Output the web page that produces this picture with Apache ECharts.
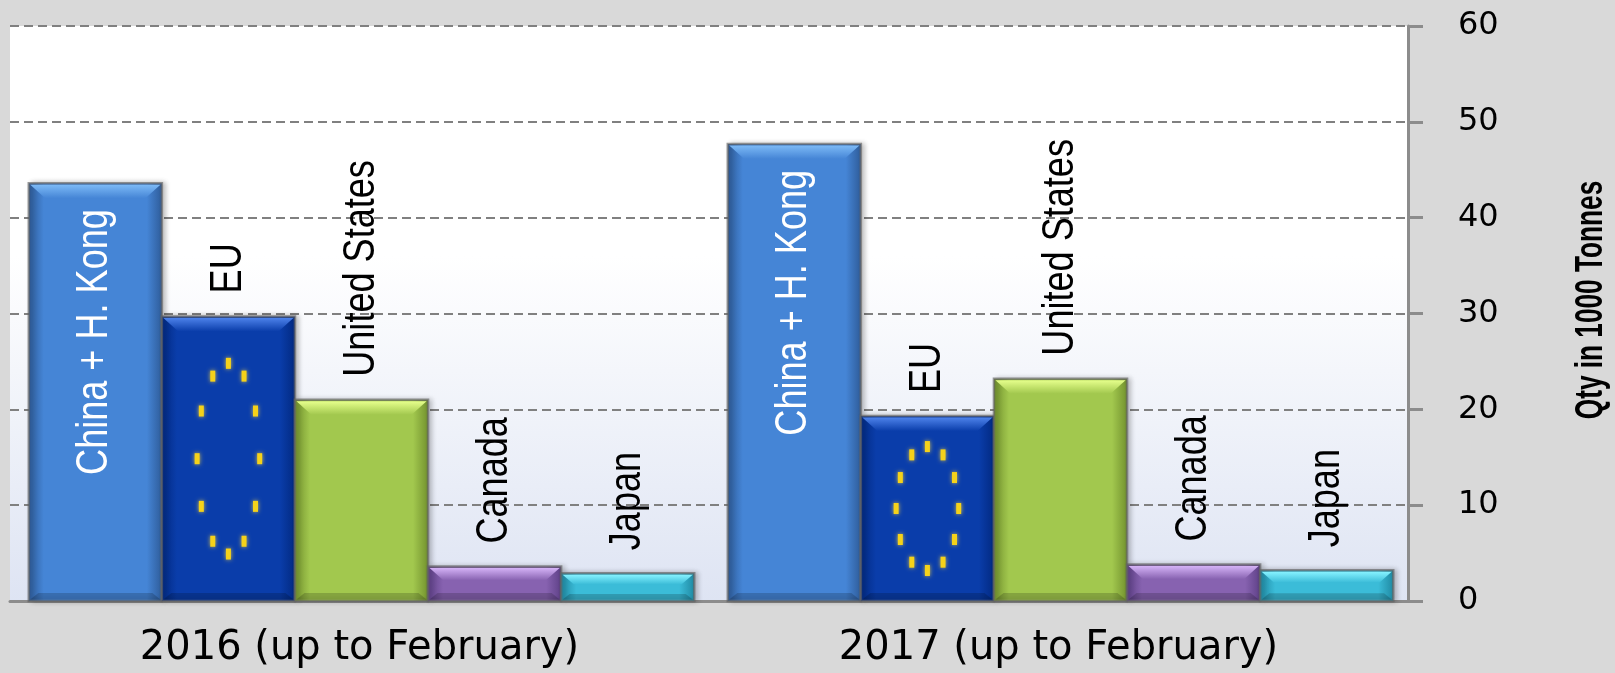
<!DOCTYPE html>
<html>
<head>
<meta charset="utf-8">
<script src="https://cdn.jsdelivr.net/npm/echarts@6/dist/echarts.min.js"></script>
<style>
	html, body { margin: 0; padding: 0; background: #d9d9d9; }
	#chart { width: 1615px; height: 673px; }
</style>
</head>
<body>
<div id="chart"></div>
<script>
	const categories = ['2016 (up to February)', '2017 (up to February)'];
	const countries = ['China + H. Kong', 'EU', 'United States', 'Canada', 'Japan'];
	// Qty in 1000 tonnes, one value per period
	const china = [43.6, 47.7];
	const eu = [29.7, 19.3];
	const usa = [21.0, 23.2];
	const canada = [3.6, 3.8];
	const japan = [2.9, 3.2];
	const yTicks = [0, 60, 10]; // min, max, step
	const yTitle = 'Qty in 1000 Tonnes';

	const seriesValues = [china, eu, usa, canada, japan];

	// look of each bar: edge / middle colour, top bevel colour
	const looks = [
		{ edge: '#2d5995', mid: '#4585d6', bevel: '#7dbaf6', label: '#ffffff', inside: true },
		{ edge: '#02287e', mid: '#0a3daa', bevel: '#4d82ea', label: '#000000', stars: true },
		{ edge: '#6f8e2c', mid: '#a2c84e', bevel: '#e6ff8c', label: '#000000' },
		{ edge: '#5b3e84', mid: '#8762b0', bevel: '#d4b2f6', label: '#000000' },
		{ edge: '#1e869f', mid: '#3bbcd8', bevel: '#86f2ff', label: '#000000' }
	];

	// no narrow font installed, so squeeze a normal one
	const labelFont = '"Liberation Sans", Arial, sans-serif';
	const tickFont = '"DejaVu Sans", Verdana, sans-serif';

	function barRenderer (idx) {
		const look = looks[idx];
		return function (params, api) {
			const cat = api.value(0);
			const val = api.value(1);
			const band = api.size([1, 0])[0];
			const groupW = band * 0.952;
			const bw = groupW / countries.length;
			const base = api.coord([cat, 0]);
			const top = api.coord([cat, val]);
			const x = base[0] - groupW / 2 + idx * bw + 2;
			const y = top[1];
			const h = base[1] - top[1];
			const bev = Math.min(15, h * 0.4);
			const kids = [];

			kids.push({
				type: 'rect',
				shape: { x: x, y: y, width: bw, height: h },
				style: {
					fill: new echarts.graphic.LinearGradient(0, 0, 1, 0, [
						{ offset: 0, color: look.edge },
						{ offset: 0.12, color: look.mid },
						{ offset: 0.88, color: look.mid },
						{ offset: 1, color: look.edge }
					]),
					stroke: 'rgba(100,100,100,0.65)',
					lineWidth: 2.5,
					shadowColor: 'rgba(0,0,0,0.25)',
					shadowBlur: 5,
					shadowOffsetX: 3,
					shadowOffsetY: 0
				}
			});
			// lit top bevel
			kids.push({
				type: 'polygon',
				shape: { points: [[x + 1.5, y + 1.5], [x + bw - 1.5, y + 1.5], [x + bw - 1.5 - bev, y + bev], [x + 1.5 + bev, y + bev]] },
				style: {
					fill: new echarts.graphic.LinearGradient(0, 0, 0, 1, [
						{ offset: 0, color: look.bevel },
						{ offset: 1, color: look.mid }
					])
				}
			});
			// darker bottom bevel
			const bb = Math.min(8, h * 0.25);
			kids.push({
				type: 'polygon',
				shape: { points: [[x + 1.5, base[1] - 1.5], [x + bw - 1.5, base[1] - 1.5], [x + bw - 1.5 - bb, base[1] - bb], [x + 1.5 + bb, base[1] - bb]] },
				style: { fill: 'rgba(0,0,0,0.18)' }
			});

			if (look.stars) {
				const cx = x + bw / 2;
				const cy = y + h / 2;
				const rx = bw * 0.235;
				const ry = h * 0.335;
				for (let k = 0; k < 12; k++) {
					const a = k * Math.PI / 6;
					kids.push({
						type: 'rect',
						shape: { x: cx + rx * Math.sin(a) - 2.5, y: cy - ry * Math.cos(a) - 5.5, width: 5, height: 11 },
						style: { fill: '#f5d21a', shadowColor: 'rgba(255,220,60,0.8)', shadowBlur: 4 }
					});
				}
			}

			kids.push({
				type: 'text',
				x: x + bw / 2,
				y: look.inside ? y + 26 : y - 23,
				rotation: Math.PI / 2,
				scaleX: 0.82,
				style: {
					text: countries[idx],
					fill: look.label,
					fontSize: 44,
					fontFamily: labelFont,
					align: look.inside ? 'right' : 'left',
					verticalAlign: 'middle'
				}
			});

			return { type: 'group', children: kids };
		};
	}

	const chart = echarts.init(document.getElementById('chart'));

	const option = {
		backgroundColor: '#d9d9d9',
		animation: false,
		grid: {
			left: 10,
			right: 207,
			top: 26,
			bottom: 72,
			outerBoundsMode: 'none',
			containLabel: false,
			show: true,
			borderWidth: 0,
			backgroundColor: {
				type: 'linear', x: 0, y: 0, x2: 0, y2: 1,
				colorStops: [
					{ offset: 0, color: '#ffffff' },
					{ offset: 0.4, color: '#ffffff' },
					{ offset: 1, color: '#dee4f3' }
				]
			}
		},
		graphic: [{
			// axis title, squeezed like the original
			type: 'text',
			x: 1592,
			y: 300,
			rotation: Math.PI / 2,
			scaleX: 0.69,
			style: {
				text: yTitle,
				fontSize: 38,
				fontWeight: 'bold',
				fontFamily: labelFont,
				fill: '#000',
				align: 'center',
				verticalAlign: 'middle'
			}
		}],
		xAxis: {
			type: 'category',
			data: categories,
			axisLine: { lineStyle: { color: '#8c8c8c', width: 3 } },
			axisTick: { length: 12, lineStyle: { color: '#8c8c8c', width: 3 } },
			axisLabel: { fontSize: 40, fontFamily: tickFont, color: '#000', margin: 28 }
		},
		yAxis: {
			type: 'value',
			position: 'right',
			min: yTicks[0],
			max: yTicks[1],
			interval: yTicks[2],
			axisLine: { show: true, lineStyle: { color: '#8c8c8c', width: 3 } },
			axisTick: { show: true, length: 15, lineStyle: { color: '#8c8c8c', width: 3 } },
			axisLabel: { fontSize: 32, fontFamily: tickFont, color: '#000', margin: 50 },
			splitLine: { lineStyle: { color: '#808080', width: 2, type: [9, 5] } }
		},
		series: seriesValues.map((vals, i) => ({
			name: countries[i],
			type: 'custom',
			encode: { x: 0, y: 1 },
			data: vals.map((v, c) => [c, v]),
			renderItem: barRenderer(i),
			z: 3
		}))
	};

	chart.setOption(option);
</script>
</body>
</html>
